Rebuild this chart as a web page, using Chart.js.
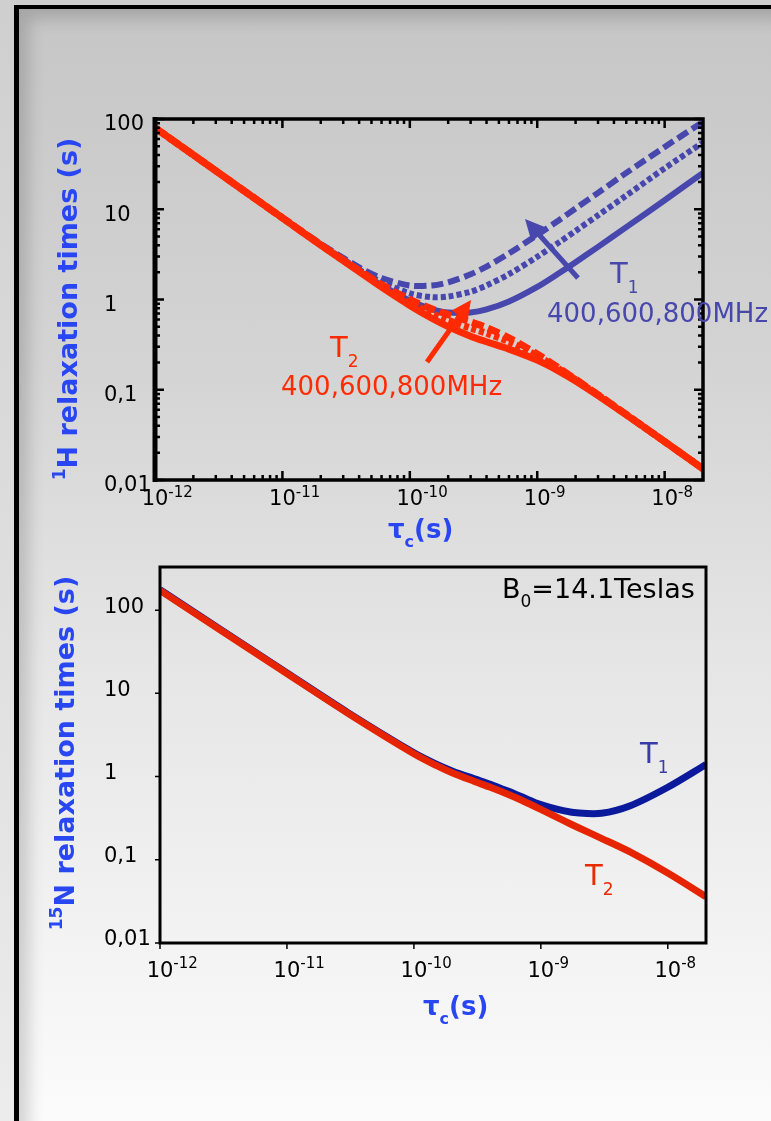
<!DOCTYPE html>
<html>
<head>
<meta charset="utf-8">
<script src="https://cdn.jsdelivr.net/npm/chart.js@4.4.0/dist/chart.umd.min.js"></script>
<style>
body { margin: 0; width: 771px; height: 1121px; overflow: hidden; background: linear-gradient(#cfcfcf, #ececec); }
#frame { position: absolute; left: 14px; top: 5px; width: 820px; height: 1200px;
  border-left: 5px solid #000; border-top: 4px solid #000;
  background: linear-gradient(#c6c6c6 0%, #d4d4d4 30%, #e6e6e6 55%, #fbfbfb 92%);
  box-shadow: inset 10px 10px 16px rgba(0,0,0,0.16); }
canvas { position: absolute; left: 0; }
</style>
</head>
<body>
<div id="frame"></div>
<canvas id="c1" width="771" height="550" style="top:0"></canvas>
<canvas id="c2" width="771" height="571" style="top:550px"></canvas>
<script>
// 1H relaxation, correlation time (s)
var tauH = [1e-12, 2e-12, 5e-12, 1e-11, 2e-11, 4e-11, 6e-11, 1e-10, 1.5e-10, 2e-10, 3e-10, 4e-10, 6e-10, 1e-9, 1.5e-9, 2e-9, 3e-9, 5e-9, 1e-8, 2e-8];
var h_T1_400 = [80, 40, 16.0, 8.02, 4.03, 2.07, 1.44, 0.968, 0.778, 0.717, 0.717, 0.775, 0.950, 1.38, 1.98, 2.59, 3.83, 6.34, 12.6, 25.3];
var h_T1_600 = [80, 40, 16.0, 8.04, 4.08, 2.15, 1.56, 1.17, 1.06, 1.08, 1.22, 1.43, 1.91, 2.97, 4.35, 5.75, 8.57, 14.2, 28.4, 55];
var h_T1_800 = [80, 40, 16.0, 8.07, 4.14, 2.27, 1.73, 1.43, 1.43, 1.55, 1.90, 2.32, 3.24, 5.18, 7.66, 10.2, 15.2, 25.3, 49, 93];
var h_T2_400 = [80, 40, 16.0, 8.01, 4.01, 2.03, 1.37, 0.860, 0.616, 0.501, 0.392, 0.340, 0.282, 0.213, 0.159, 0.125, 0.0862, 0.0527, 0.0266, 0.0133];
var h_T2_600 = [80, 40, 16.0, 8.02, 4.03, 2.06, 1.42, 0.925, 0.696, 0.588, 0.483, 0.423, 0.341, 0.238, 0.168, 0.129, 0.0876, 0.0531, 0.0266, 0.0133];
var h_T2_800 = [80, 40, 16.0, 8.03, 4.05, 2.10, 1.47, 1.00, 0.785, 0.680, 0.564, 0.487, 0.376, 0.249, 0.172, 0.131, 0.0882, 0.0532, 0.0266, 0.0133];

// 15N relaxation at 14.1 T
var tauN = [1e-12, 1e-11, 3e-11, 1e-10, 1.5e-10, 2e-10, 3e-10, 4e-10, 5.5e-10, 7e-10, 1e-9, 1.5e-9, 2e-9, 3e-9, 5e-9, 1e-8, 2e-8];
var n_T1 = [176, 17.6, 5.91, 1.93, 1.41, 1.17, 0.94, 0.81, 0.67, 0.575, 0.460, 0.390, 0.364, 0.362, 0.443, 0.745, 1.40];
var n_T2 = [173, 17.3, 5.81, 1.88, 1.36, 1.11, 0.875, 0.744, 0.614, 0.523, 0.403, 0.297, 0.241, 0.181, 0.125, 0.0694, 0.036];

// tick labels
var xTicks = [1e-12, 1e-11, 1e-10, 1e-9, 1e-8];
var xTickExp = ['-12', '-11', '-10', '-9', '-8'];
var yTicks = [0.01, 0.1, 1, 10, 100];
var yTickLabels = ['0,01', '0,1', '1', '10', '100'];

var FONT = '"DejaVu Sans"';
var redTop = '#ff2a00', blueTop = '#4747ad';
var redBot = '#e62400', blueBot = '#0b1a9c';
var titleBlue = '#2846f2';

function ds(tau, vals, color, width, dash, order) {
	return {
		data: tau.map(function(t, i) { return {x: t, y: vals[i]}; }),
		borderColor: color,
		borderWidth: width,
		borderDash: dash,
		borderCapStyle: 'butt',
		pointRadius: 0,
		fill: false,
		tension: 0.3,
		order: order
	};
}

function logScale(min, max) {
	return {
		type: 'logarithmic', min: min, max: max,
		ticks: {display: false},
		grid: {display: false, drawTicks: false},
		border: {display: false},
		title: {display: false}
	};
}

// draws text pieces left to right: [text, size, dy, bold]
function parts(ctx, x, y, list, color) {
	ctx.fillStyle = color;
	ctx.textBaseline = 'alphabetic';
	ctx.textAlign = 'left';
	list.forEach(function(p) {
		ctx.font = (p[3] ? 'bold ' : '') + p[1] + 'px ' + FONT;
		ctx.fillText(p[0], x, y + p[2]);
		x += ctx.measureText(p[0]).width;
	});
	return x;
}

function partsWidth(ctx, list) {
	var w = 0;
	list.forEach(function(p) {
		ctx.font = (p[3] ? 'bold ' : '') + p[1] + 'px ' + FONT;
		w += ctx.measureText(p[0]).width;
	});
	return w;
}

function vtitle(ctx, cx, cy, list, color) {
	ctx.save();
	ctx.translate(cx, cy);
	ctx.rotate(-Math.PI / 2);
	var w = partsWidth(ctx, list);
	parts(ctx, -w / 2, 9, list, color);
	ctx.restore();
}

function arrow(ctx, x1, y1, x2, y2, color, w, head) {
	var ang = Math.atan2(y2 - y1, x2 - x1);
	ctx.strokeStyle = color;
	ctx.fillStyle = color;
	ctx.lineWidth = w;
	ctx.beginPath();
	ctx.moveTo(x1, y1);
	ctx.lineTo(x2 - Math.cos(ang) * head * 0.7, y2 - Math.sin(ang) * head * 0.7);
	ctx.stroke();
	ctx.beginPath();
	ctx.moveTo(x2, y2);
	ctx.lineTo(x2 - head * Math.cos(ang - 0.45), y2 - head * Math.sin(ang - 0.45));
	ctx.lineTo(x2 - head * Math.cos(ang + 0.45), y2 - head * Math.sin(ang + 0.45));
	ctx.closePath();
	ctx.fill();
}

function xLabels(ctx, sx, yBase, ySup) {
	xTicks.forEach(function(v, i) {
		var px = sx.getPixelForValue(v);
		ctx.font = '21px ' + FONT;
		var wb = ctx.measureText('10').width;
		ctx.fillStyle = '#000';
		ctx.textAlign = 'left';
		ctx.textBaseline = 'alphabetic';
		ctx.fillText('10', px - wb / 2, yBase);
		ctx.font = '15px ' + FONT;
		ctx.fillText(xTickExp[i], px + wb / 2, ySup);
	});
}

function yLabels(ctx, sy, x, dy) {
	ctx.font = '21px ' + FONT;
	ctx.fillStyle = '#000';
	ctx.textAlign = 'left';
	ctx.textBaseline = 'middle';
	yTicks.forEach(function(v, i) {
		ctx.fillText(yTickLabels[i], x, sy.getPixelForValue(v) + dy);
	});
}

var hDecor = {
	id: 'hDecor',
	afterDatasetsDraw: function(chart) {
		var ctx = chart.ctx, a = chart.chartArea, sx = chart.scales.x, sy = chart.scales.y;
		ctx.save();
		ctx.strokeStyle = '#000';
		// inward ticks on all four sides
		ctx.lineWidth = 2.5;
		ctx.beginPath();
		for (var d = -12; d <= -8; d++) {
			for (var k = 1; k <= 9; k++) {
				var v = k * Math.pow(10, d);
				if (v >= 2e-8) continue;
				var px = sx.getPixelForValue(v), len = k === 1 ? 9 : 5;
				ctx.moveTo(px, a.bottom); ctx.lineTo(px, a.bottom - len);
				ctx.moveTo(px, a.top); ctx.lineTo(px, a.top + len);
			}
		}
		for (d = -2; d <= 2; d++) {
			for (k = 1; k <= 9; k++) {
				v = k * Math.pow(10, d);
				if (v > 100) continue;
				var py = sy.getPixelForValue(v);
				len = k === 1 ? 9 : 5;
				ctx.moveTo(a.left, py); ctx.lineTo(a.left + len, py);
				ctx.moveTo(a.right, py); ctx.lineTo(a.right - len, py);
			}
		}
		ctx.stroke();
		ctx.lineWidth = 3.5;
		ctx.strokeRect(a.left, a.top, a.right - a.left, a.bottom - a.top);
		ctx.lineWidth = 5;
		ctx.beginPath(); ctx.moveTo(a.left, a.top - 2); ctx.lineTo(a.left, a.bottom + 2); ctx.stroke();

		xLabels(ctx, sx, 505, 497);
		yLabels(ctx, sy, 104, 6);

		vtitle(ctx, 68, 309, [['1', 17, -12, true], ['H relaxation times (s)', 27, 0, true]], titleBlue);
		parts(ctx, 388, 538, [['\u03c4', 26, 0, true], ['c', 16, 9, true], ['(s)', 26, 0, true]], titleBlue);

		// annotations
		arrow(ctx, 578, 278, 525, 219, blueTop, 5, 24);
		parts(ctx, 610, 283, [['T', 29, 0], ['1', 17, 10]], blueTop);
		parts(ctx, 547, 322, [['400,600,800MHz', 26, 0]], blueTop);
		arrow(ctx, 427, 362, 471, 300, redTop, 5, 22);
		parts(ctx, 330, 357, [['T', 29, 0], ['2', 17, 10]], redTop);
		parts(ctx, 281, 395, [['400,600,800MHz', 26, 0]], redTop);
		ctx.restore();
	}
};

var nDecor = {
	id: 'nDecor',
	afterDatasetsDraw: function(chart) {
		var ctx = chart.ctx, a = chart.chartArea, sx = chart.scales.x, sy = chart.scales.y;
		ctx.save();
		ctx.strokeStyle = '#000';
		ctx.lineWidth = 1.5;
		ctx.beginPath();
		xTicks.forEach(function(v) {
			var px = sx.getPixelForValue(v);
			ctx.moveTo(px, a.bottom); ctx.lineTo(px, a.bottom + 6);
		});
		yTicks.forEach(function(v) {
			var py = sy.getPixelForValue(v);
			ctx.moveTo(a.left, py); ctx.lineTo(a.left - 5, py);
		});
		ctx.stroke();
		ctx.lineWidth = 3;
		ctx.strokeRect(a.left, a.top, a.right - a.left, a.bottom - a.top);

		xLabels(ctx, sx, 427, 418);
		yLabels(ctx, sy, 104, -3);

		vtitle(ctx, 65, 203, [['15', 17, -12, true], ['N relaxation times (s)', 27, 0, true]], titleBlue);
		parts(ctx, 423, 465, [['\u03c4', 26, 0, true], ['c', 16, 9, true], ['(s)', 26, 0, true]], titleBlue);

		parts(ctx, 502, 48, [['B', 27, 0], ['0', 17, 9], ['=14.1Teslas', 27, 0]], '#000');
		parts(ctx, 640, 213, [['T', 29, 0], ['1', 17, 10]], '#3a3aa8');
		parts(ctx, 585, 335, [['T', 29, 0], ['2', 17, 10]], '#ea2a00');
		ctx.restore();
	}
};

function baseOptions(pad, ymin, ymax) {
	return {
		responsive: false,
		animation: false,
		layout: {padding: pad},
		plugins: {legend: {display: false}, tooltip: {enabled: false}},
		scales: {x: logScale(1e-12, 2e-8), y: logScale(ymin, ymax)}
	};
}

new Chart(document.getElementById('c1').getContext('2d'), {
	type: 'line',
	data: {
		datasets: [
			ds(tauH, h_T2_400, redTop, 7, [], 0),
			ds(tauH, h_T2_600, redTop, 7, [5, 3], 1),
			ds(tauH, h_T2_800, redTop, 7, [12, 5], 2),
			ds(tauH, h_T1_400, blueTop, 6, [], 3),
			ds(tauH, h_T1_600, blueTop, 6, [5, 3], 4),
			ds(tauH, h_T1_800, blueTop, 6, [12, 5], 5)
		]
	},
	options: baseOptions({left: 155, top: 119, right: 68, bottom: 70}, 0.01, 100),
	plugins: [hDecor]
});

new Chart(document.getElementById('c2').getContext('2d'), {
	type: 'line',
	data: {
		datasets: [
			ds(tauN, n_T2, redBot, 7, [], 0),
			ds(tauN, n_T1, blueBot, 7, [], 1)
		]
	},
	options: baseOptions({left: 160, top: 17, right: 65, bottom: 178}, 0.01, 330),
	plugins: [nDecor]
});
</script>
</body>
</html>
